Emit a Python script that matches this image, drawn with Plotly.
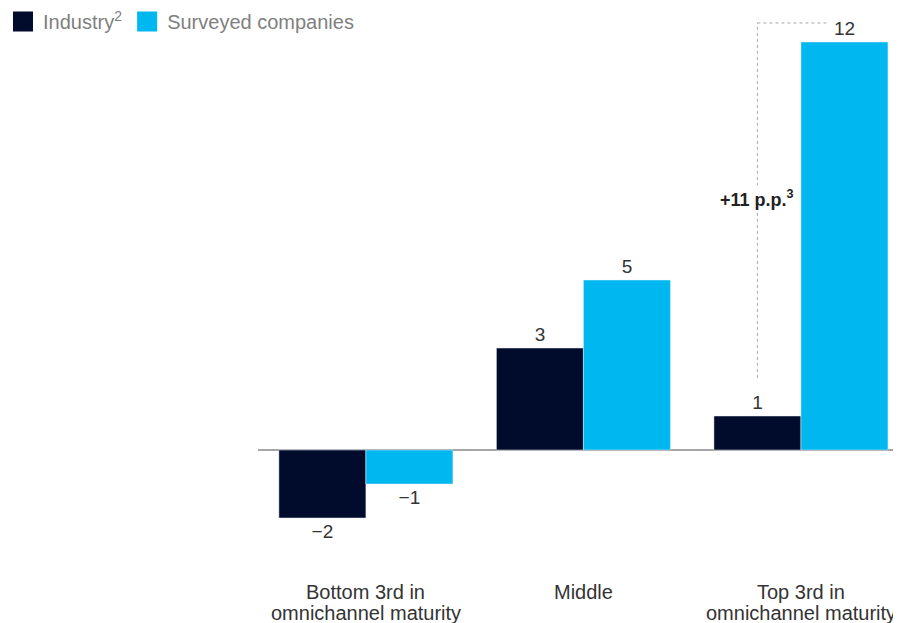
import plotly.graph_objects as go

categories = ["Bottom 3rd in<br>omnichannel maturity", "Middle", "Top 3rd in<br>omnichannel maturity"]
cat_keys = ["Bottom", "Middle", "Top"]
industry = [-2, 3, 1]
surveyed = [-1, 5, 12]
series_names = ["Industry<sup>2</sup>", "Surveyed companies"]
gap_label = "+11 p.p.<sup>3</sup>"

C_IND = "#010B2B"
C_SUR = "#00B8EF"
FONT = "Liberation Sans, Arial, sans-serif"


def lab(v):
    return str(v).replace("-", "\u2212")


fig = go.Figure()
fig.add_bar(x=cat_keys, y=industry, marker_color=C_IND, name=series_names[0],
            text=[lab(v) for v in industry], textposition="outside",
            textfont=dict(size=19, color="#333333", family=FONT),
            cliponaxis=False, showlegend=False)
fig.add_bar(x=cat_keys, y=surveyed, marker_color=C_SUR, name=series_names[1],
            text=[lab(v) for v in surveyed], textposition="outside",
            textfont=dict(size=19, color="#333333", family=FONT),
            cliponaxis=False, showlegend=False)

# legend-only entries with square swatches
for nm, col in zip(series_names, [C_IND, C_SUR]):
    fig.add_scatter(x=[None], y=[None], mode="markers", name=nm,
                    marker=dict(symbol="square", size=16, color=col,
                                line=dict(color=col, width=4)))

# dashed bracket showing the gap
x_ind_top = 2 - 0.2
y_lo = industry[2] + 1.12
y_hi = surveyed[2] + 0.56
dash_style = dict(color="#AAAAAA", width=1, dash="3px,3px")
fig.add_shape(type="line", xref="x", yref="y", x0=x_ind_top, x1=x_ind_top, y0=y_lo, y1=y_hi,
              line=dash_style)
fig.add_shape(type="line", xref="x", yref="y", x0=x_ind_top, x1=2.125, y0=y_hi, y1=y_hi,
              line=dash_style)
fig.add_annotation(x=x_ind_top, y=7.41, xref="x", yref="y", text="<b>" + gap_label + "</b>",
                   showarrow=False, bgcolor="white", borderpad=1,
                   font=dict(size=18, color="#222222", family=FONT))

# category labels, one annotation per line for tight line spacing
line_y = [-4.18, -4.80]
for key, cat in zip(cat_keys, categories):
    for i, part in enumerate(cat.split("<br>")):
        fig.add_annotation(x=key, y=line_y[i], xref="x", yref="y", text=part, showarrow=False,
                           yanchor="middle", font=dict(size=20, color="#333333", family=FONT))

# page body has an 8px margin, so the figure is sized to fill the rest of the window
fig.update_layout(
    width=893, height=615,
    margin=dict(l=250, r=0, t=0, b=3, autoexpand=False),
    paper_bgcolor="rgba(0,0,0,0)", plot_bgcolor="rgba(0,0,0,0)",
    barmode="group", bargap=0.2, bargroupgap=0,
    font=dict(family=FONT),
    legend=dict(orientation="h", xref="paper", yref="paper", x=-0.3966, y=1.0098,
                xanchor="left", yanchor="top", bgcolor="rgba(0,0,0,0)",
                font=dict(size=20, color="#7F7F7F", family=FONT),
                itemsizing="trace"),
    xaxis=dict(range=[-0.496, 2.46], showticklabels=False, showgrid=False, zeroline=False,
               showline=False, ticks=""),
    yaxis=dict(range=[-5, 13], showticklabels=False, showgrid=False, zeroline=True,
               zerolinecolor="#A6A6A6", zerolinewidth=2, showline=False, ticks=""),
)

fig.write_html("out.html")
